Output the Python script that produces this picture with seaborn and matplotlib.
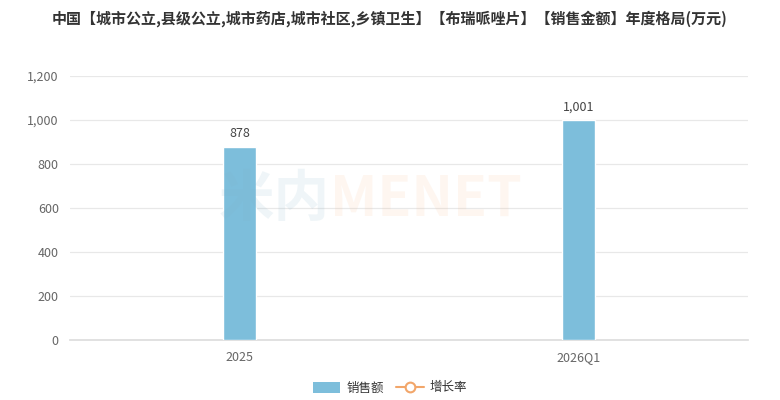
import pandas as pd
import matplotlib
matplotlib.use("Agg")
import matplotlib.pyplot as plt
import seaborn as sns
from matplotlib.patches import Patch
from matplotlib.lines import Line2D

# Data
categories = ["2025", "2026Q1"]
sales = [878, 1001]
y_ticks = [0, 200, 400, 600, 800, 1000, 1200]
title = "中国【城市公立,县级公立,城市药店,城市社区,乡镇卫生】【布瑞哌唑片】【销售金额】年度格局(万元)"

BAR_COLOR = "#7dbedb"
LINE_COLOR = "#f2a66a"
TEXT_COLOR = "#666666"

sns.set_theme(style="white")
plt.rcParams["font.family"] = ["Noto Sans CJK SC", "DejaVu Sans"]

df = pd.DataFrame({"period": categories, "sales": sales})

fig = plt.figure(figsize=(7.8, 4.0), dpi=100)
ax = fig.add_axes([0.0897, 0.15, 0.8693, 0.66])

sns.barplot(data=df, x="period", y="sales", color=BAR_COLOR, width=0.097,
            saturation=1, ax=ax, zorder=3)

ax.set_ylim(0, 1200)
ax.set_yticks(y_ticks)
ax.set_yticklabels([f"{v:,}" for v in y_ticks])
ax.set_xlim(-0.5, 1.5)
ax.grid(axis="y", color="#e8e8e8", linewidth=0.9, zorder=0)
ax.grid(axis="x", visible=False)
for side in ["left", "right", "top"]:
    ax.spines[side].set_visible(False)
ax.spines["bottom"].set_color("#dddddd")
ax.tick_params(axis="both", length=0, labelsize=9, colors=TEXT_COLOR, pad=8)
ax.set_xlabel("")
ax.set_ylabel("")

# value labels
for i, v in enumerate(sales):
    ax.text(i, v + 30, f"{v:,}", ha="center", va="bottom", fontsize=9, color="#444444", zorder=5)

# watermark
fig.text(0.423, 0.5, "米内", fontsize=40, fontweight="bold", color="#7fb0c8",
         alpha=0.12, ha="right", va="center", zorder=10)
fig.text(0.423, 0.5, "MENET", fontsize=40, fontweight="bold", color="#f7b88a",
         alpha=0.12, ha="left", va="center", zorder=10)

fig.suptitle(title, x=0.5, y=0.975, fontsize=10.8, fontweight="bold", color="#333333")

handles = [
    Patch(facecolor=BAR_COLOR, edgecolor="none", label="销售额"),
    Line2D([0], [0], color=LINE_COLOR, lw=1.5, marker="o", markersize=7,
           markerfacecolor="white", markeredgecolor=LINE_COLOR, markeredgewidth=1.5,
           label="增长率"),
]
fig.legend(handles=handles, loc="center", bbox_to_anchor=(0.5, 0.03), ncol=2,
           frameon=False, fontsize=9, handlelength=2.2, handleheight=1.0,
           columnspacing=1.0, handletextpad=0.5, labelcolor="#333333")

fig.savefig("out.png", dpi=100)
